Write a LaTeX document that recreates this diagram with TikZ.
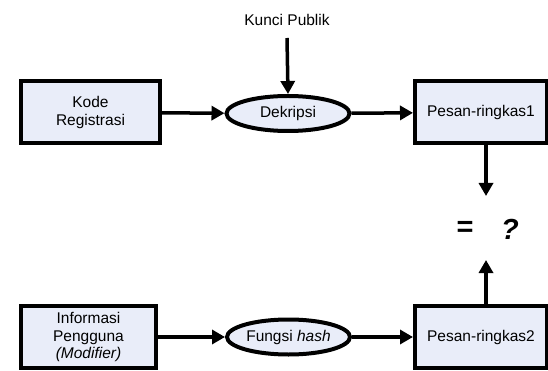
\documentclass[tikz,border=0pt]{standalone}
\usepackage{fontspec}
\setmainfont{Liberation Sans}
\usetikzlibrary{arrows.meta,shapes.geometric}

\definecolor{boxfill}{RGB}{233,237,249}

\tikzset{
    kotak/.style = {draw = black, fill = boxfill, line width = 4pt, align = center,
        minimum width = 133pt, minimum height = 62pt, inner sep = 0pt},
    proses/.style = {ellipse, draw = black, fill = boxfill, line width = 4pt,
        minimum width = 123pt, minimum height = 35pt, inner sep = 0pt},
    panah/.style = {line width = 3.5pt, -{Triangle[length = 13pt, width = 14pt]}}
}

\begin{document}
\begin{tikzpicture}[x = 1pt, y = -1pt, font = \fontsize{15.5}{17.5}\selectfont]
        \useasboundingbox (0, 0) rectangle (548, 371);
        % baris atas
        \node[kotak, minimum width = 139pt] (kode) at (90.5, 112.5) {Kode\\Registrasi};
        \node[proses] (dekripsi) at (288, 113.5) {Dekripsi};
        \node[kotak, minimum width = 132pt] (pesan1) at (481, 112.5) {Pesan-ringkas1};
        \node (kunci) at (287, 20) {Kunci Publik};
        \coordinate (kunciawal) at (287, 38);
        % baris bawah
        \node[kotak, minimum width = 135pt, minimum height = 62pt] (info) at (88.5, 337) {Informasi\\Pengguna\\\textit{(Modifier)}};
        \node[proses] (fungsi) at (288.5, 337) {Fungsi \textit{hash}};
        \node[kotak, minimum width = 132pt, minimum height = 62pt] (pesan2) at (481, 337) {Pesan-ringkas2};
        % perbandingan
        \node[font = \fontsize{29}{30}\selectfont\bfseries] (sama) at (465, 229) {=};
        \node[font = \fontsize{29}{30}\selectfont\bfseries\itshape] (tanya) at (510, 229) {?};
        \coordinate (atas) at (486, 196);
        \coordinate (bawah) at (486, 260);
        \draw[panah] (kunciawal) -- (dekripsi.north);
        \draw[panah] (kode) -- (dekripsi);
        \draw[panah] (dekripsi) -- (pesan1);
        \draw[panah] (info) -- (fungsi);
        \draw[panah] (fungsi) -- (pesan2);
        \draw[panah] (pesan1.south -| atas) -- (atas);
        \draw[panah] (pesan2.north -| bawah) -- (bawah);
    \end{tikzpicture}
\end{document}
